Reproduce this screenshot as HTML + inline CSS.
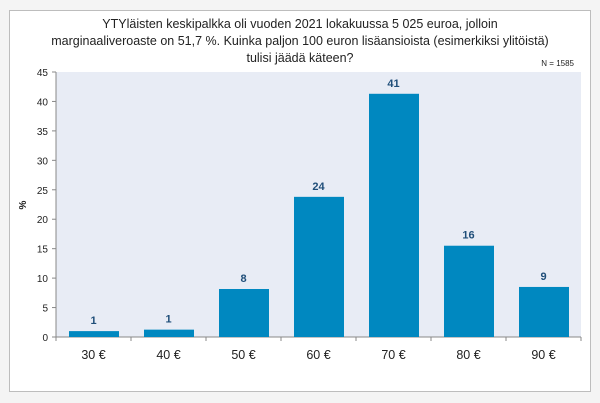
<!DOCTYPE html>
<html><head><meta charset="utf-8"><style>
body{margin:0;background:#f4f4f4;font-family:"Liberation Sans",Arial,sans-serif;}
#frame{position:absolute;left:9px;top:10px;width:580px;height:380px;background:#fff;border:1px solid #bdbdbd;}
</style></head><body>
<div id="frame"></div>
<svg id="chart" width="600" height="403" style="position:absolute;left:0;top:0">
<text x="300" y="28" font-size="12.5" text-anchor="middle" fill="#222">YTYläisten keskipalkka oli vuoden 2021 lokakuussa 5 025 euroa, jolloin</text>
<text x="300" y="45" font-size="12.5" text-anchor="middle" fill="#222">marginaaliveroaste on 51,7 %. Kuinka paljon 100 euron lisäansioista (esimerkiksi ylitöistä)</text>
<text x="300" y="62" font-size="12.5" text-anchor="middle" fill="#222">tulisi jäädä käteen?</text>
<text x="574" y="66" font-size="8" text-anchor="end" fill="#222">N = 1585</text>
<text x="26" y="205" font-size="10" font-weight="bold" text-anchor="middle" fill="#222" transform="rotate(-90 26 205)">%</text>
</svg>
<script>
const categories=["30 €","40 €","50 €","60 €","70 €","80 €","90 €"];
const values=[1.0,1.25,8.15,23.8,41.3,15.5,8.5];
const labels=["1","1","8","24","41","16","9"];
const yTicks=[0,5,10,15,20,25,30,35,40,45];
const NS="http://www.w3.org/2000/svg";
const svg=document.getElementById("chart");
const L=56,R=581,T=72,B=337,yMax=45;
const cw=(R-L)/categories.length;
const y=v=>B-(v/yMax)*(B-T);
const x=i=>L+i*cw;
function mk(t,a){const e=document.createElementNS(NS,t);for(const k in a)e.setAttribute(k,a[k]);svg.appendChild(e);return e;}
let e=mk("rect",{x:L,y:T,width:R-L,height:B-T,fill:"#e8ecf5"});


yTicks.forEach(t=>{
  mk("line",{x1:L-4,x2:L,y1:y(t),y2:y(t),stroke:"#888"});
  const tx=mk("text",{x:L-8,y:y(t)+4,"font-size":"10","text-anchor":"end",fill:"#222"});
  tx.textContent=t;
  
  
});
mk("line",{x1:L,x2:L,y1:T,y2:B,stroke:"#888"});
mk("line",{x1:L,x2:R,y1:B,y2:B,stroke:"#888"});
categories.forEach((c,i)=>{
  mk("line",{x1:x(i),x2:x(i),y1:B,y2:B+4,stroke:"#888"});
  const b=mk("rect",{x:x(i)+13,y:y(values[i]),width:cw-25,height:B-y(values[i]),fill:"#0088c0"});
  
  
  const v=mk("text",{x:x(i)+cw/2,y:y(values[i])-7,"font-size":"11","font-weight":"bold","text-anchor":"middle",fill:"#1f4e79"});
  v.textContent=labels[i];
  
  
  const t=mk("text",{x:x(i)+cw/2,y:B+22,"font-size":"12.5","text-anchor":"middle",fill:"#222"});
  t.textContent=c;
  
  
});
mk("line",{x1:R,x2:R,y1:B,y2:B+4,stroke:"#888"});
</script>
</body></html>
